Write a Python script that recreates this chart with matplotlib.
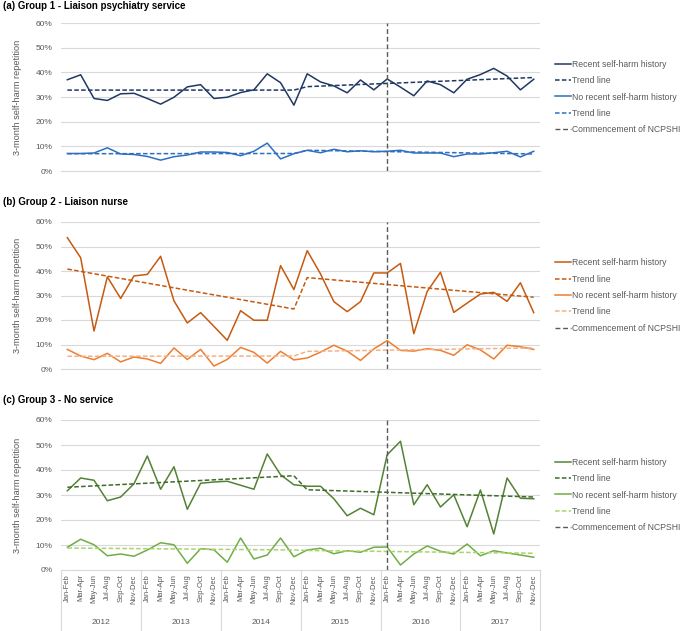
import numpy as np
import matplotlib
matplotlib.use('Agg')
import matplotlib.pyplot as plt
import matplotlib.transforms as mtransforms

plt.rcParams['font.family'] = ['Liberation Sans', 'DejaVu Sans']

years = [2012, 2013, 2014, 2015, 2016, 2017]
months = ['Jan-Feb', 'Mar-Apr', 'May-Jun', 'Jul-Aug', 'Sep-Oct', 'Nov-Dec']
commence_year = 2016

# group 1 - liaison psychiatry service (%)
g1_recent = [37.0, 39.0, 29.4, 28.6, 31.3, 31.5, 29.4, 27.1, 29.9, 34.1, 35.0, 29.4,
             29.9, 31.8, 32.9, 39.4, 35.8, 26.7, 39.4, 36.1, 34.5, 31.7, 36.9, 32.9,
             37.3, 34.0, 30.5, 36.5, 35.0, 31.7, 37.2, 39.1, 41.6, 38.5, 32.9, 37.2]
g1_norecent = [7.1, 7.1, 7.3, 9.4, 6.9, 6.7, 5.9, 4.4, 5.8, 6.5, 7.7, 7.7,
               7.5, 6.2, 8.0, 11.3, 4.9, 7.0, 8.4, 7.4, 8.8, 7.8, 8.2, 7.8,
               8.0, 8.4, 7.3, 7.3, 7.3, 5.8, 6.9, 6.9, 7.4, 8.0, 5.7, 8.0]
g1_trend_recent = [32.8, 32.8, 34.2, 37.9]
g1_trend_norecent = [7.0, 7.1, 8.4, 6.9]

# group 2 - liaison nurse
g2_recent = [53.6, 45.4, 15.5, 37.6, 28.8, 38.0, 38.6, 46.0, 27.8, 18.8, 23.0, 17.4,
             11.7, 23.8, 19.9, 19.9, 42.2, 32.4, 48.3, 38.8, 27.5, 23.4, 27.5, 39.2,
             39.2, 43.1, 14.4, 31.6, 39.5, 23.1, 26.9, 30.6, 31.3, 27.6, 35.2, 23.0]
g2_norecent = [8.0, 5.3, 3.8, 6.4, 2.9, 4.9, 4.1, 2.3, 8.6, 3.9, 8.0, 1.2,
               3.9, 8.8, 6.8, 2.4, 7.2, 3.7, 4.5, 6.9, 9.7, 7.3, 3.5, 8.2,
               11.6, 7.6, 7.3, 8.3, 7.6, 5.6, 9.9, 7.8, 4.1, 9.7, 9.1, 8.0]
g2_trend_recent = [40.8, 24.5, 37.3, 29.3]
g2_trend_norecent = [5.2, 5.3, 7.2, 8.6]

# group 3 - no service
g3_recent = [31.7, 36.8, 35.9, 27.7, 29.2, 34.5, 45.6, 32.3, 41.3, 24.3, 34.7, 35.2,
             35.5, 33.9, 32.3, 46.4, 38.1, 34.1, 33.5, 33.5, 28.5, 21.7, 24.7, 22.1,
             46.1, 51.5, 26.1, 34.1, 25.2, 30.1, 17.3, 32.0, 14.4, 36.8, 28.7, 28.5]
g3_norecent = [9.1, 12.3, 10.1, 5.7, 6.4, 5.5, 8.0, 10.9, 10.1, 2.7, 8.5, 8.1,
               3.1, 12.8, 4.4, 6.0, 12.8, 5.3, 8.0, 8.7, 6.5, 7.7, 7.1, 9.1,
               9.2, 2.0, 6.4, 9.6, 7.5, 6.4, 10.4, 5.7, 7.7, 6.8, 6.0, 5.1]
g3_trend_recent = [33.1, 37.7, 32.1, 29.2]
g3_trend_norecent = [8.8, 8.0, 7.8, 6.7]

groups = [
    ('(a) Group 1 - Liaison psychiatry service', g1_recent, g1_trend_recent, g1_norecent, g1_trend_norecent,
     ['#203864', '#203864', '#2E6FC0', '#2E6FC0']),
    ('(b) Group 2 - Liaison nurse', g2_recent, g2_trend_recent, g2_norecent, g2_trend_norecent,
     ['#C55A11', '#C55A11', '#ED7D31', '#F4B183']),
    ('(c) Group 3 - No service', g3_recent, g3_trend_recent, g3_norecent, g3_trend_norecent,
     ['#548235', '#3F6B2A', '#70AD47', '#A9D46B']),
]

n = len(years) * len(months)
x = np.arange(n)
# trend segments: before / after the break between Nov-Dec 2014 and Jan-Feb 2015
brk = years.index(2015) * len(months)
trend_x = [0, brk - 1, brk, n - 1]
commence = years.index(commence_year) * len(months)

fig = plt.figure(figsize=(6.85, 6.31), dpi=100)
W, H = 685, 631
boxes = [(23, 171), (222, 369), (420, 570)]
title_y = [6, 202, 400]
grey = '#595959'

for k, (title, rec, trec, norec, tnorec, cols) in enumerate(groups):
    top, bot = boxes[k]
    ax = fig.add_axes([60.7 / W, 1 - bot / H, 479.7 / W, (bot - top) / H])
    ax.plot(x, np.array(rec) / 100, color=cols[0], lw=1.1, label='Recent self-harm history')
    ax.plot(trend_x, np.array(trec) / 100, color=cols[1], lw=1.1, ls=(0, (3, 1.5)), label='Trend line')
    ax.plot(x, np.array(norec) / 100, color=cols[2], lw=1.1, label='No recent self-harm history')
    ax.plot(trend_x, np.array(tnorec) / 100, color=cols[3], lw=1.1, ls=(0, (3, 1.5)), label='Trend line')
    ax.axvline(commence, color=grey, lw=1.0, ls=(0, (3.5, 2)), label='Commencement of NCPSHI')

    ax.set_xlim(-0.5, n - 0.5)
    ax.set_ylim(0, 0.6)
    ax.set_yticks(np.arange(0, 0.61, 0.1))
    ax.set_yticklabels(['{:.0f}%'.format(v * 100) for v in np.arange(0, 0.61, 0.1)], fontsize=6, color=grey)
    ax.yaxis.grid(True, color='#D9D9D9', lw=0.8)
    ax.set_axisbelow(True)
    for s in ['top', 'right', 'left']:
        ax.spines[s].set_visible(False)
    ax.spines['bottom'].set_color('#D9D9D9')
    ax.tick_params(axis='y', length=0, pad=6)
    ax.tick_params(axis='x', length=0)
    ax.set_ylabel('3-month self-harm repetition', fontsize=6.6, color=grey, labelpad=10)

    fig.text(3 / W, 1 - title_y[k] / H, title, fontsize=7.0, fontweight='bold', va='center', ha='left')

    ax.legend(loc='center left', bbox_to_anchor=(1.03, 0.5), frameon=False, fontsize=6.2,
              handlelength=1.9, handletextpad=0.15, labelspacing=0.85, borderpad=0, borderaxespad=0,
              labelcolor=grey)

    if k < 2:
        ax.set_xticks([])
    else:
        ax.set_xticks(x)
        ax.set_xticklabels(months * len(years), rotation=90, fontsize=5.4, color=grey)
        ax.tick_params(axis='x', pad=3)
        trans = mtransforms.blended_transform_factory(ax.transData, ax.transAxes)
        h_ax = bot - top
        for j in range(len(years) + 1):
            xs = j * len(months) - 0.5
            ax.plot([xs, xs], [0, -61 / h_ax], transform=trans, color='#D9D9D9', lw=0.8, clip_on=False)
        for j, yr in enumerate(years):
            ax.text(j * len(months) + 2.5, -53 / h_ax, str(yr), transform=trans, ha='center', va='center',
                    fontsize=6, color=grey)

plt.savefig('out.png', dpi=100)
